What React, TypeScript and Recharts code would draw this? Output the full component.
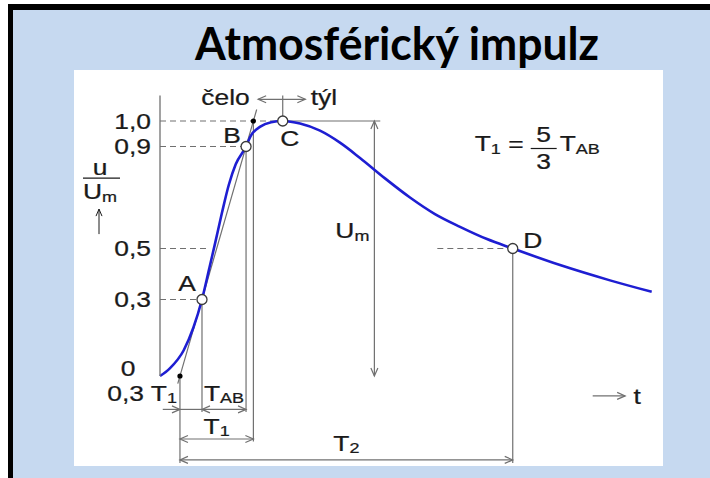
import React from 'react';
import { ComposedChart, Line, XAxis, YAxis, ReferenceLine, ReferenceDot } from 'recharts';

// normalised impulse voltage u/Um against time (arbitrary time units)
const timeAxis = [0, 1.0, 2.4, 3.4, 4.27, 5.0, 5.6, 6.3, 7.0, 7.7, 8.75, 9.2, 10.2, 11.3, 12.48, 14.24, 16.27, 18.3, 20.34, 22.88, 25.42, 27.96, 30.51, 33.25, 35.87, 40.68, 45.76, 50];
const voltage = [0, 0.03, 0.1, 0.19, 0.3, 0.42, 0.52, 0.64, 0.75, 0.83, 0.9, 0.94, 0.978, 0.995, 1.0, 0.99, 0.962, 0.915, 0.855, 0.775, 0.7, 0.635, 0.585, 0.537, 0.5, 0.435, 0.375, 0.33];

// marked points on the wave
const pointNames = ['A', 'B', 'C', 'D'];
const pointTimes = [4.27, 8.75, 12.48, 35.87];
const pointValues = [0.3, 0.9, 1.0, 0.5];

const yTicks = [0, 0.3, 0.5, 0.9, 1.0];
const yTickLabels = ['0', '0,3', '0,5', '0,9', '1,0'];

const curveData = timeAxis.map((t, i) => ({ t, u: voltage[i] }));

const GRAY = '#707070';
const BLUE = '#1e1ed2';
const INK = '#1a1a1a';
const FONT = "'Liberation Sans', Arial, sans-serif";
const FS = 22;
const SUB = 15;
const SX = 1.2;

// levels of the dimension rows under the time axis
const ROW_AB = -0.131;
const ROW_T1 = -0.247;
const ROW_T2 = -0.329;
const ROW_END = -0.341;

function Label({ x, y, anchor = 'middle', size = FS, children }: any) {
  return (
    <g transform={`translate(${x},${y}) scale(${SX},1)`}>
      <text
        x={0}
        y={0}
        textAnchor={anchor}
        dominantBaseline="central"
        fontFamily={FONT}
        fontSize={size}
        fill={INK}
        stroke={INK}
        strokeWidth={0.25}
      >
        {children}
      </text>
    </g>
  );
}

const sub = (s: string) => (
  <tspan fontSize={SUB} dy={5}>
    {s}
  </tspan>
);

const head = (x: number, y: number, dx: number, dy: number, key: string) => {
  const L = 8;
  const W = 3.5;
  const bx = x - dx * L;
  const by = y - dy * L;
  const px = -dy * W;
  const py = dx * W;
  return (
    <polyline
      key={key}
      points={`${bx + px},${by + py} ${x},${y} ${bx - px},${by - py}`}
      fill="none"
      stroke={GRAY}
      strokeWidth={1.2}
    />
  );
};

const arrowShape = (startHead: boolean, endHead: boolean) => (p: any) => {
  const { x1, y1, x2, y2 } = p;
  const len = Math.hypot(x2 - x1, y2 - y1) || 1;
  const ux = (x2 - x1) / len;
  const uy = (y2 - y1) / len;
  return (
    <g>
      <line x1={x1} y1={y1} x2={x2} y2={y2} stroke={GRAY} strokeWidth={1.2} />
      {startHead && head(x1, y1, -ux, -uy, 's')}
      {endHead && head(x2, y2, ux, uy, 'e')}
    </g>
  );
};

const seg = (key: string, t1: number, u1: number, t2: number, u2: number, extra: any = {}) => (
  <ReferenceLine
    key={key}
    segment={[{ x: t1, y: u1 }, { x: t2, y: u2 }]}
    stroke={GRAY}
    strokeWidth={1.2}
    ifOverflow="visible"
    {...extra}
  />
);

const tag = (key: string, t: number, u: number, dx: number, dy: number, content: any, anchor = 'middle') => (
  <ReferenceDot
    key={key}
    x={t}
    y={u}
    r={0}
    ifOverflow="visible"
    shape={(p: any) => (
      <Label x={p.cx + dx} y={p.cy + dy} anchor={anchor}>
        {content}
      </Label>
    )}
  />
);

function YTick(props: any) {
  const { x, y, payload } = props;
  const i = yTicks.indexOf(payload.value);
  if (payload.value === 0) {
    return <Label x={x - 23} y={y - 8}>{yTickLabels[i]}</Label>;
  }
  return <Label x={x} y={y} anchor="end">{yTickLabels[i]}</Label>;
}

export default function App() {
  const [tA, tB, tC, tD] = pointTimes;
  const [uA, uB] = pointValues;
  // tangent through A and B defines the virtual origin O1 and the front time T1
  const slope = (uB - uA) / (tB - tA);
  const tO1 = tA - uA / slope;
  const tTop = tB + (1 - uB) / slope;
  const tangentAt = (u: number) => tA + (u - uA) / slope;
  const tUm = 21.8;

  return (
    <div style={{ position: 'absolute', left: 0, top: 0, width: 710, height: 478, background: '#fff', overflow: 'hidden' }}>
      <div
        style={{
          position: 'absolute',
          left: 8,
          top: 4,
          width: 720,
          height: 490,
          background: '#c6d9f0',
          borderTop: '6px solid #000',
          borderLeft: '5px solid #000',
          boxSizing: 'border-box',
        }}
      />
      <svg style={{ position: 'absolute', left: 0, top: 0 }} width={710} height={70}>
        <text x={195} y={60} textLength={404} lengthAdjust="spacingAndGlyphs" fontFamily="Lato, 'Open Sans', sans-serif" fontWeight={700} fontSize={45} fill="#000">
          Atmosférický impulz
        </text>
      </svg>
      <div style={{ position: 'absolute', left: 74, top: 70, width: 589, height: 396, background: '#fff' }}>
        <ComposedChart width={589} height={396} data={curveData} margin={{ top: 25.5, right: 11.3, bottom: 90, left: 26 }}>
          <XAxis type="number" dataKey="t" domain={[0, 50]} tick={false} tickLine={false} height={0} axisLine={{ stroke: GRAY, strokeWidth: 1.3 }} />
          <YAxis
            type="number"
            domain={[0, 1.1]}
            ticks={yTicks}
            interval={0}
            width={60}
            tickLine={false}
            tickSize={8}
            tickMargin={1}
            tick={YTick}
            axisLine={{ stroke: GRAY, strokeWidth: 1.3 }}
          />

          {/* dashed level lines */}
          {seg('d10', 0, 1, tC, 1, { strokeDasharray: '6 4' })}
          {seg('d09', 0, 0.9, tB, 0.9, { strokeDasharray: '6 4' })}
          {seg('d05', 0, 0.5, 4.8, 0.5, { strokeDasharray: '6 4' })}
          {seg('d03', 0, 0.3, tA, 0.3, { strokeDasharray: '6 4' })}
          {seg('dD', 28.2, 0.5, tD, 0.5, { strokeDasharray: '6 4' })}
          {seg('top', tC, 1, 22.4, 1)}

          {/* tangent through A and B */}
          {seg('tan', tangentAt(-0.03), -0.03, tangentAt(1.045), 1.045)}

          {/* verticals */}
          {seg('vO1', tO1, 0, tO1, ROW_END)}
          {seg('vA', tA, uA, tA, ROW_AB - 0.01)}
          {seg('vB', tB, uB, tB, ROW_AB - 0.01)}
          {seg('vTop', tTop, 1, tTop, ROW_T1 - 0.01)}
          {seg('vD', tD, pointValues[3], tD, ROW_END)}
          {seg('vC', tC, 1, tC, 1.1)}

          {/* dimension arrows */}
          {seg('r1a', tO1 - 1.75, ROW_AB, tO1, ROW_AB, { shape: arrowShape(false, true) })}
          {seg('r1b', tO1, ROW_AB, tA, ROW_AB)}
          {seg('r1c', tA, ROW_AB, tB, ROW_AB, { shape: arrowShape(true, true) })}
          {seg('r2', tO1, ROW_T1, tTop, ROW_T1, { shape: arrowShape(true, true) })}
          {seg('r3', tO1, ROW_T2, tD, ROW_T2, { shape: arrowShape(true, true) })}
          {seg('um', tUm, 1, tUm, 0, { shape: arrowShape(true, true) })}
          {seg('ct', tC - 2.5, 1.085, tC + 2.3, 1.085, { shape: arrowShape(true, true) })}
          {seg('tax', 44.0, -0.078, 47.3, -0.078, { shape: arrowShape(false, true) })}

          <Line type="monotone" dataKey="u" stroke={BLUE} strokeWidth={2.6} dot={false} activeDot={false} isAnimationActive={false} />

          {pointNames.map((n, i) => (
            <ReferenceDot key={n} x={pointTimes[i]} y={pointValues[i]} r={5} fill="#fff" stroke="#3a3a3a" strokeWidth={1.3} ifOverflow="visible" />
          ))}
          <ReferenceDot x={tO1} y={0} r={2.6} fill="#000" stroke="none" ifOverflow="visible" />
          <ReferenceDot x={tTop} y={1} r={2.6} fill="#000" stroke="none" ifOverflow="visible" />

          {/* point names */}
          {tag('lA', tA, uA, -15, -16, 'A')}
          {tag('lB', tB, uB, -14, -11, 'B')}
          {tag('lC', tC, 1, 7, 17, 'C')}
          {tag('lD', tD, pointValues[3], 20, -8, 'D')}

          {tag('celo', tC, 1, -33, -24, 'čelo', 'end')}
          {tag('tyl', tC, 1, 28, -24, 'týl', 'start')}
          {tag('um', tUm, 0.5, -22, -18, <>U{sub('m')}</>)}
          {tag('t', 47.3, -0.078, 12, 0, 't')}

          {tag('o3', tO1, 0, -3, 17, <>0,3 T{sub('1')}</>, 'end')}
          {tag('tab', (tA + tB) / 2, 0, 0, 17, <>T{sub('AB')}</>)}
          {tag('t1', (tO1 + tTop) / 2, ROW_T1, 0, -13, <>T{sub('1')}</>)}
          {tag('t2', (tO1 + tD) / 2, ROW_T2, 0, -17, <>T{sub('2')}</>)}

          {/* y-axis quantity u / Um */}
          {tag('yu', 0, 0.78, -60, -10, 'u')}
          {seg('ybar', 0, 0.78, 0, 0.78, {
            shape: (p: any) => <line x1={p.x1 - 77} y1={p.y1 + 1} x2={p.x1 - 40} y2={p.y1 + 1} stroke={INK} strokeWidth={1.2} />,
          })}
          {tag('yum', 0, 0.78, -60, 14, <>U{sub('m')}</>)}
          {seg('yarr', 0, 0.78, 0, 0.78, {
            shape: (p: any) => (
              <g>
                <line x1={p.x1 - 61} y1={p.y1 + 57} x2={p.x1 - 61} y2={p.y1 + 32} stroke={INK} strokeWidth={1} />
                <polyline points={`${p.x1 - 64},${p.y1 + 39} ${p.x1 - 61},${p.y1 + 32} ${p.x1 - 58},${p.y1 + 39}`} fill="none" stroke={INK} strokeWidth={1} />
              </g>
            ),
          })}

          {/* T1 = 5/3 TAB */}
          {tag('f1', 32, 0.9, 0, -3, <>T{sub('1')}<tspan dy={-5}> =</tspan></>, 'start')}
          {tag('f5', 32, 0.9, 69, -12, '5')}
          {seg('fbar', 32, 0.9, 32, 0.9, {
            shape: (p: any) => <line x1={p.x1 + 56} y1={p.y1 + 2} x2={p.x1 + 82} y2={p.y1 + 2} stroke={INK} strokeWidth={1.2} />,
          })}
          {tag('f3', 32, 0.9, 69, 15, '3')}
          {tag('f2', 32, 0.9, 85, -3, <>T{sub('AB')}</>, 'start')}
        </ComposedChart>
      </div>
    </div>
  );
}
